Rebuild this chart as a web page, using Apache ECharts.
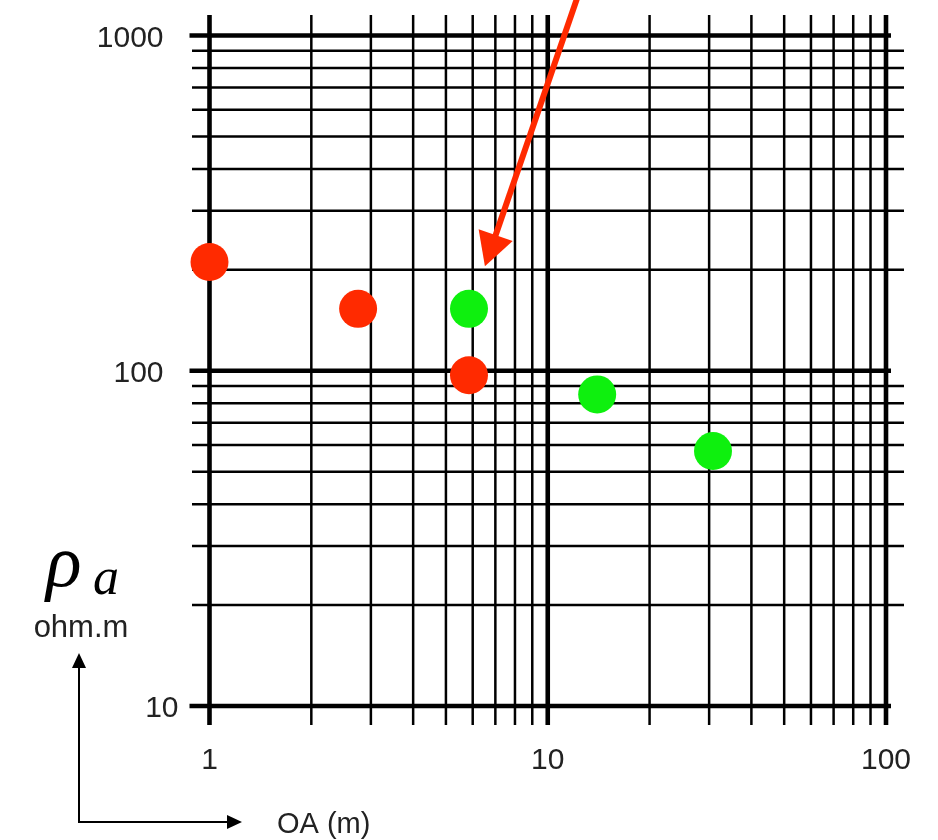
<!DOCTYPE html>
<html>
<head>
<meta charset="utf-8">
<script src="https://cdn.jsdelivr.net/npm/echarts@6/dist/echarts.min.js"></script>
<style>
  html, body { margin: 0; padding: 0; background: #fff; }
  #chart { width: 938px; height: 840px; }
</style>
</head>
<body>
<div id="chart"></div>
<script>
// decades and the 2..9 lines in between
const xTicks = [1, 10, 100];
const yTicks = [10, 100, 1000];
const xMinor = [2, 3, 4, 5, 6, 7, 8, 9, 20, 30, 40, 50, 60, 70, 80, 90];
const yMinor = [20, 30, 40, 50, 60, 70, 80, 90, 200, 300, 400, 500, 600, 700, 800, 900];

// OA (m), rho_a (ohm.m)
const redPoints = [[1, 211], [2.75, 153], [5.85, 97]];
const greenPoints = [[5.85, 153], [14, 85], [30.8, 57.6]];

// red pointer, in data space
const pointerFrom = [12.3, 1320];
const pointerTo = [6.52, 205];

const font = 'Liberation Sans';

let gridData = [];
xMinor.forEach(v => gridData.push([v, 100, 0]));
xTicks.forEach(v => gridData.push([v, 100, 1]));
yMinor.forEach(v => gridData.push([10, v, 2]));
yTicks.forEach(v => gridData.push([10, v, 3]));

const chart = echarts.init(document.getElementById('chart'));

const option = {
  animation: false,
  grid: { left: 209.5, right: 52, top: 35.5, bottom: 134 },
  xAxis: {
    type: 'log', logBase: 10, min: 1, max: 100,
    axisLine: { show: false }, axisTick: { show: false }, splitLine: { show: false },
    axisLabel: { fontFamily: font, fontSize: 30, color: '#222', margin: 40,
      formatter: v => String(v) }
  },
  yAxis: {
    type: 'log', logBase: 10, min: 10, max: 1000,
    axisLine: { show: false }, axisTick: { show: false }, splitLine: { show: false },
    axisLabel: {
      margin: 31,
      formatter: v => v === 10 ? '{b|10}' : '{a|' + v + '}',
      rich: {
        a: { fontFamily: font, fontSize: 30, color: '#222', padding: [6, 15, 0, 0] },
        b: { fontFamily: font, fontSize: 30, color: '#222', padding: [6, 0, 0, 0] }
      }
    }
  },
  series: [
    {
      type: 'custom',
      silent: true,
      clip: false,
      z: 1,
      data: gridData,
      renderItem: function (params, api) {
        const cs = params.coordSys;
        const kind = api.value(2);
        const p = api.coord([api.value(0), api.value(1)]);
        let shape;
        if (kind < 2) {
          shape = { x1: p[0], y1: cs.y - 20.5, x2: p[0], y2: cs.y + cs.height + 19 };
        } else if (kind === 3) {
          shape = { x1: cs.x - 20, y1: p[1], x2: cs.x + cs.width + 5, y2: p[1] };
        } else {
          shape = { x1: cs.x - 17.5, y1: p[1], x2: cs.x + cs.width + 18, y2: p[1] };
        }
        return {
          type: 'line',
          shape: shape,
          style: { stroke: '#000', lineWidth: kind % 2 ? 4.6 : 2.5 }
        };
      }
    },
    {
      type: 'scatter', z: 3, symbolSize: 38,
      itemStyle: { color: '#ff2a00', opacity: 1 },
      data: redPoints
    },
    {
      type: 'scatter', z: 3, symbolSize: 38,
      itemStyle: { color: '#0ef00e', opacity: 1 },
      data: greenPoints
    }
  ]
};
chart.setOption(option);

// arrow pointing at the green point
const a = chart.convertToPixel({ gridIndex: 0 }, pointerFrom);
const b = chart.convertToPixel({ gridIndex: 0 }, pointerTo);
let dx = b[0] - a[0], dy = b[1] - a[1];
const len = Math.sqrt(dx * dx + dy * dy);
dx /= len; dy /= len;
const headLen = 33, headW = 36;
const base = [b[0] - dx * headLen, b[1] - dy * headLen];
const nx = -dy, ny = dx;

chart.setOption({
  graphic: [
    { type: 'line', z: 10, shape: { x1: a[0], y1: a[1], x2: base[0] + dx * 2, y2: base[1] + dy * 2 },
      style: { stroke: '#ff2a00', lineWidth: 6 } },
    { type: 'polygon', z: 10,
      shape: { points: [b, [base[0] + nx * headW / 2, base[1] + ny * headW / 2], [base[0] - nx * headW / 2, base[1] - ny * headW / 2]] },
      style: { fill: '#ff2a00' } },

    // little axis arrows bottom left
    { type: 'line', shape: { x1: 79, y1: 823, x2: 79, y2: 666 }, style: { stroke: '#000', lineWidth: 2 } },
    { type: 'polygon', shape: { points: [[79, 653], [72, 668], [86, 668]] }, style: { fill: '#000' } },
    { type: 'line', shape: { x1: 78, y1: 822, x2: 229, y2: 822 }, style: { stroke: '#000', lineWidth: 2 } },
    { type: 'polygon', shape: { points: [[242, 822], [227, 815], [227, 829]] }, style: { fill: '#000' } },

    { type: 'text', x: 46, y: 567,
      style: { text: 'ρ', font: 'italic 74px "Liberation Serif"', fill: '#000', verticalAlign: 'middle', textAlign: 'left' } },
    { type: 'text', x: 93, y: 580,
      style: { text: 'a', font: 'italic 52px "Liberation Serif"', fill: '#000', verticalAlign: 'middle', textAlign: 'left' } },
    { type: 'text', x: 81, y: 628,
      style: { text: 'ohm.m', font: '31px "Liberation Sans"', fill: '#222', verticalAlign: 'middle', textAlign: 'center' } },
    { type: 'text', x: 277, y: 825,
      style: { text: 'OA (m)', font: '29px "Liberation Sans"', fill: '#222', verticalAlign: 'middle', textAlign: 'left' } }
  ]
});
</script>
</body>
</html>
